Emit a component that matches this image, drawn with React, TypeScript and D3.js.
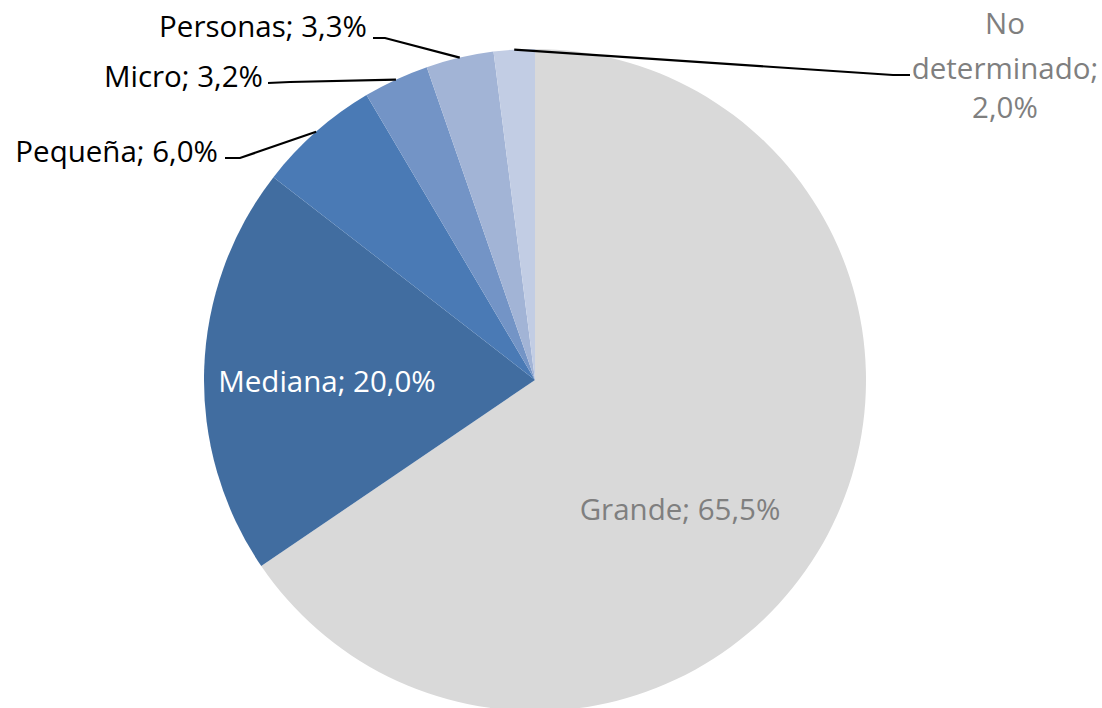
import React from "react";
import * as d3 from "d3";

const categories = ["Grande", "Mediana", "Pequeña", "Micro", "Personas", "No determinado"];
const values = [65.5, 20.0, 6.0, 3.2, 3.3, 2.0];
const colors = ["#d9d9d9", "#416da0", "#4a7ab5", "#7394c6", "#a2b4d6", "#c2cde4"];

const W = 1102, H = 708;
const cx = 535, cy = 380, R = 331;
const FONT = "'Open Sans', sans-serif";
const FS = 29.5;

const fmt = (v: number) => v.toFixed(1).replace(".", ",") + "%";

// label layouts (positions only)
type Lab = { inside?: boolean; x: number; y: number; anchor: string; color: string; elbow?: [number, number]; end?: [number, number] };
const labelLayout: Lab[] = [
  { inside: true, x: 680, y: 508, anchor: "middle", color: "#7f7f7f" },
  { inside: true, x: 327, y: 380, anchor: "middle", color: "#ffffff" },
  { x: 218, y: 150, anchor: "end", color: "#000000", elbow: [240, 158], end: [225, 158] },
  { x: 263, y: 75, anchor: "end", color: "#000000", elbow: [290, 82], end: [268, 83] },
  { x: 367, y: 25, anchor: "end", color: "#000000", elbow: [385, 38], end: [373, 38] },
  { x: 1005, y: 22, anchor: "middle", color: "#7f7f7f", elbow: [893, 75], end: [910, 75] },
];

export default function App() {
  const pie = d3.pie<number>().sort(null).value((d) => d)(values);
  const arc = d3.arc<d3.PieArcDatum<number>>().innerRadius(0).outerRadius(R);
  return (
    <svg width={W} height={H} style={{ display: "block", position: "absolute", left: 0, top: 0 }}>
      <rect width={W} height={H} fill="#ffffff" />
      <g transform={`translate(${cx},${cy})`}>
        {pie.map((p, i) => (
          <path key={i} d={arc(p) || ""} fill={colors[i]} />
        ))}
      </g>
      {pie.map((p, i) => {
        const L = labelLayout[i];
        const text = `${categories[i]}; ${fmt(values[i])}`;
        if (L.inside) {
          return (
            <text key={i} x={L.x} y={L.y} textAnchor={L.anchor} dominantBaseline="central" fill={L.color} fontFamily={FONT} fontSize={FS}>
              {text}
            </text>
          );
        }
        const mid = (p.startAngle + p.endAngle) / 2;
        const ax = cx + R * Math.sin(mid);
        const ay = cy - R * Math.cos(mid);
        const pts = [[ax, ay], L.elbow!, L.end!];
        const line = d3.line()(pts as [number, number][]);
        if (i === 5) {
          return (
            <g key={i}>
              <path d={line || ""} fill="none" stroke="#000" strokeWidth={2.2} />
              <text x={L.x} y={22} textAnchor="middle" dominantBaseline="central" fill={L.color} fontFamily={FONT} fontSize={FS}>No</text>
              <text x={L.x} y={67} textAnchor="middle" dominantBaseline="central" fill={L.color} fontFamily={FONT} fontSize={FS}>determinado;</text>
              <text x={L.x} y={106} textAnchor="middle" dominantBaseline="central" fill={L.color} fontFamily={FONT} fontSize={FS}>{fmt(values[i])}</text>
            </g>
          );
        }
        return (
          <g key={i}>
            <path d={line || ""} fill="none" stroke="#000" strokeWidth={2.2} />
            <text x={L.x} y={L.y} textAnchor={L.anchor} dominantBaseline="central" fill={L.color} fontFamily={FONT} fontSize={FS}>
              {text}
            </text>
          </g>
        );
      })}
    </svg>
  );
}
